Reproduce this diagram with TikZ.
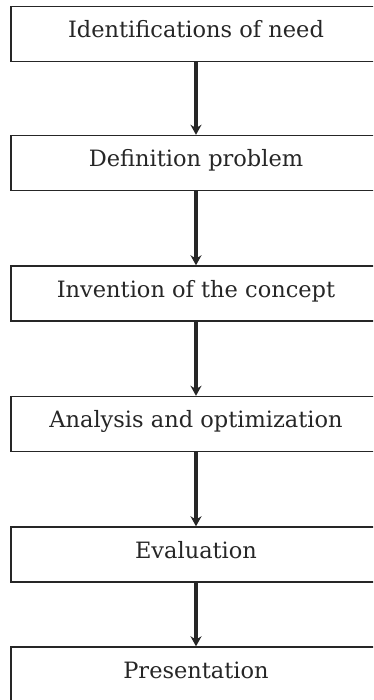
\documentclass[tikz,border=0pt]{standalone}
\usepackage{fontspec}
\setmainfont{DejaVu Serif}
\usetikzlibrary{arrows.meta}

\begin{document}
\begin{tikzpicture}[
    x=1pt, y=-1pt,
    stagebox/.style={draw=black!85, line width=1.4pt, minimum width=370pt, minimum height=55pt,
        inner sep=0pt, text height=15pt, text depth=8pt, text=black!85,
        font=\fontsize{22.5}{26}\selectfont},
    flow/.style={-{Stealth[length=10pt,width=11pt]}, line width=3.2pt, draw=black!85}
]
    \useasboundingbox (0,0) rectangle (373,700);
    \clip (0,0) rectangle (373,700);

    % stages
    \node[stagebox] (need) at (196,34) {Identifications of need};
    \node[stagebox] (def) at (196,163) {Definition problem};
    \node[stagebox] (inv) at (196,293.5) {Invention of the concept};
    \node[stagebox] (ana) at (196,424) {Analysis and optimization};
    \node[stagebox] (eval) at (196,554.5) {Evaluation};
    \node[stagebox] (pres) at (196,674.5) {Presentation};

    % links
    \draw[flow] (need) -- (def);
    \draw[flow] (def) -- (inv);
    \draw[flow] (inv) -- (ana);
    \draw[flow] (ana) -- (eval);
    \draw[flow] (eval) -- (pres);
\end{tikzpicture}
\end{document}
